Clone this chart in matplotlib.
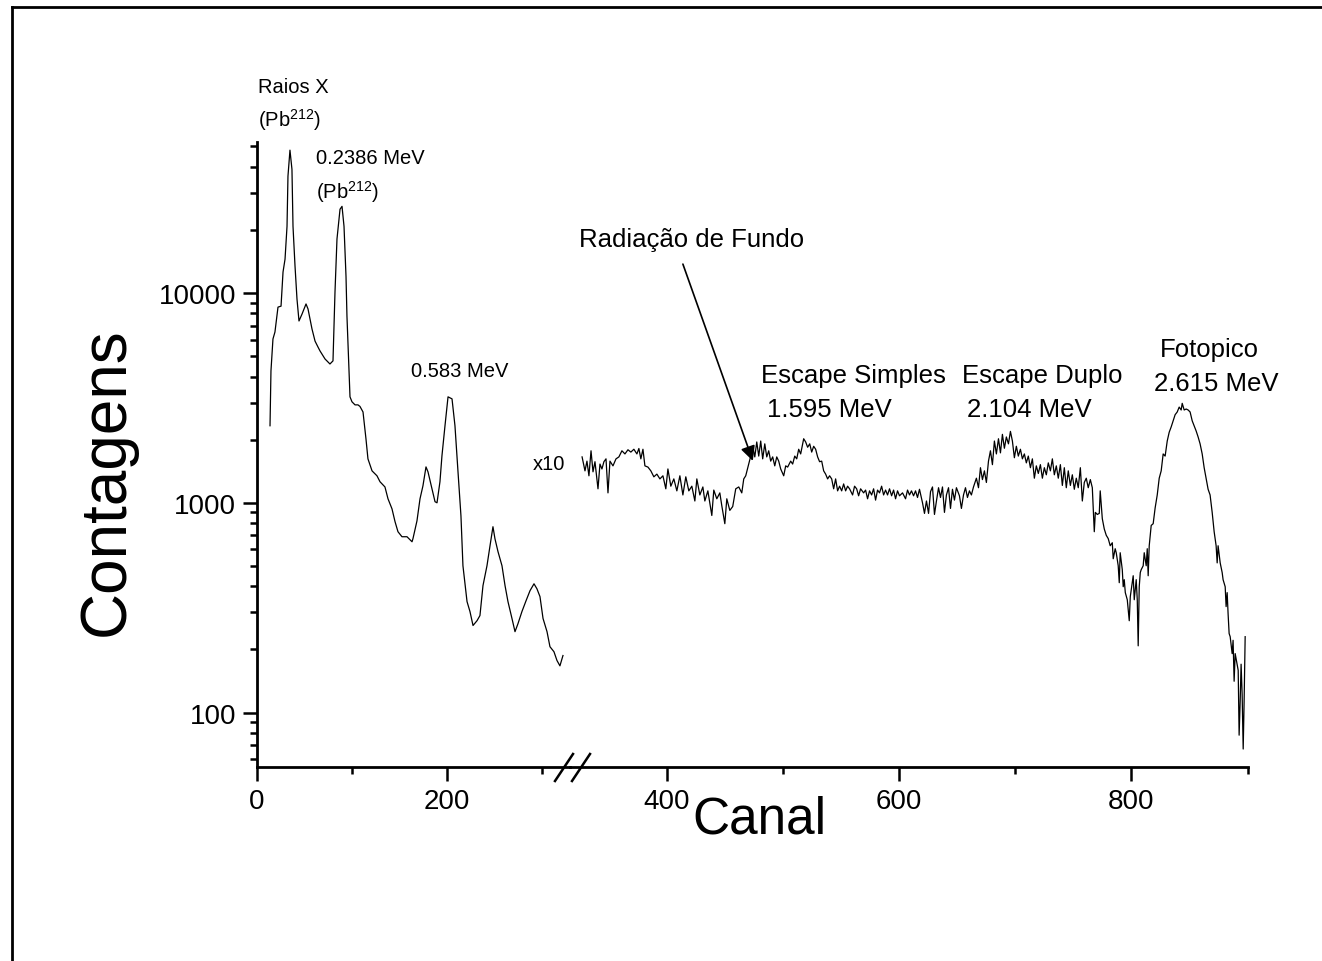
import matplotlib
matplotlib.use('Agg')
import matplotlib.pyplot as plt
from matplotlib.lines import Line2D
from matplotlib.ticker import MultipleLocator, LogLocator, NullFormatter, FixedLocator

plt.rcParams['font.family'] = ['Liberation Sans', 'DejaVu Sans']
plt.rcParams['mathtext.fontset'] = 'custom'
plt.rcParams['mathtext.rm'] = 'Liberation Sans'
plt.rcParams['mathtext.default'] = 'regular'

# --- left part of the spectrum (channel, counts) ---
left_ch = [13.7, 14.7, 16.8, 18.9, 22.1, 25.3, 27.4, 29.5, 31.6, 32.6, 34.7, 36.8, 37.9, 40.0,
           42.1, 44.2, 47.4, 51.6, 53.7, 57.9, 61.1, 64.2, 66.3, 71.6, 76.8, 80.0, 82.1, 84.2,
           87.4, 89.5, 91.6, 93.7, 94.7, 97.9, 100.0, 103.2, 106.3, 108.4, 111.6, 114.7, 116.8,
           121.1, 126.3, 129.5, 134.7, 137.9, 142.1, 145.3, 148.4, 152.6, 157.9, 163.2, 164.2,
           168.4, 171.6, 174.7, 177.9, 180.0, 184.2, 187.4, 189.5, 192.6, 194.7, 197.9, 201.1,
           205.3, 208.4, 211.6, 214.7, 216.8, 221.1, 224.2, 227.4, 231.6, 234.7, 237.9, 242.1,
           245.3, 248.4, 250.5, 253.7, 257.9, 261.1, 264.2, 268.4, 271.6, 274.7, 278.9, 283.2,
           287.4, 291.6, 294.7, 297.9, 301.1, 305.3, 308.4, 312.6, 315.8, 318.9, 322.1]
left_counts = [2330, 4255, 6040, 6520, 8570, 8660, 12600, 14500, 20800, 36100, 48000, 38900,
               20800, 13500, 9360, 7360, 7940, 8870, 8400, 6740, 5900, 5530, 5300, 4850, 4590,
               4750, 10100, 18100, 25100, 25900, 20800, 12000, 7760, 3200, 3030, 2930, 2930,
               2880, 2710, 2020, 1620, 1420, 1345, 1260, 1190, 1045, 936, 813, 728, 689, 689,
               652, 675, 820, 1045, 1205, 1483, 1405, 1166, 1012, 1000, 1260, 1675, 2330, 3200,
               3130, 2330, 1405, 867, 501, 338, 303, 260, 274, 290, 403, 501, 624, 769, 674,
               585, 501, 403, 338, 281, 243, 265, 303, 341, 381, 411, 389, 357, 281, 243, 206,
               195, 177, 167, 187]

# --- right part of the spectrum, shown multiplied by 10 ---
right_ch = [327.0, 329.5, 331.2, 332.9, 334.7, 336.4, 338.1, 340.7, 342.4, 344.1, 345.8, 347.6,
            349.3, 351.0, 353.6, 356.2, 358.7, 361.3, 363.9, 366.5, 369.0, 371.6, 374.2, 375.9,
            377.6, 379.4, 381.1, 383.7, 386.2, 388.8, 391.4, 394.0, 396.6, 399.1, 400.9, 403.4,
            406.0, 408.6, 411.2, 413.8, 416.3, 418.9, 421.5, 424.1, 425.8, 428.4, 431.0, 432.7,
            435.3, 438.7, 440.4, 443.0, 445.6, 447.3, 449.9, 451.6, 454.2, 456.7, 459.3, 461.9,
            464.5, 466.2, 467.9, 470.5, 472.2, 473.9, 475.7, 477.4, 479.1, 480.8, 482.5, 484.3,
            486.0, 487.7, 489.4, 491.1, 492.9, 494.6, 496.3, 498.0, 500.6, 502.3, 504.0, 506.6,
            508.3, 510.1, 511.8, 513.5, 515.2, 517.8, 519.5, 521.2, 523.0, 524.7, 526.4, 528.1,
            529.8, 531.5, 533.3, 535.0, 536.7, 538.4, 540.1, 541.9, 543.6, 545.3, 547.0, 548.7,
            550.5, 552.2, 553.9, 555.6, 557.3, 559.9, 561.6, 563.4, 565.1, 566.8, 569.4, 571.1,
            572.8, 574.5, 576.3, 578.0, 579.7, 581.4, 583.1, 584.9, 586.6, 588.3, 590.0, 591.7,
            593.5, 595.2, 596.9, 598.6, 600.3, 602.9, 605.5, 607.2, 608.9, 610.6, 612.4, 614.1,
            615.8, 617.5, 620.1, 621.8, 623.5, 625.3, 627.0, 628.7, 630.4, 632.1, 633.9, 635.6,
            637.3, 639.0, 640.7, 642.5, 644.2, 645.9, 647.6, 649.3, 651.9, 653.6, 655.4, 657.1,
            658.8, 660.5, 662.2, 664.0, 666.5, 668.3, 670.0, 671.7, 673.4, 675.1, 676.9, 678.6,
            680.3, 682.0, 683.7, 685.5, 687.2, 688.9, 690.6, 692.3, 694.1, 695.8, 697.5, 699.2,
            700.9, 702.6, 704.4, 706.1, 707.8, 709.5, 711.2, 713.0, 714.7, 716.4, 718.1, 719.8,
            721.6, 723.3, 725.0, 726.7, 728.4, 730.2, 731.9, 733.6, 735.3, 737.0, 738.8, 740.5,
            742.2, 743.9, 745.6, 747.4, 749.1, 750.8, 752.5, 754.2, 756.0, 757.7, 759.4, 761.1,
            762.8, 764.6, 766.3, 768.0, 768.9, 770.6, 772.3, 773.1, 774.9, 776.6, 778.3, 780.0,
            781.7, 783.5, 784.3, 786.0, 786.9, 788.6, 789.5, 790.3, 792.1, 792.9, 793.8, 794.7,
            796.4, 798.1, 799.0, 799.8, 801.5, 802.4, 804.1, 805.0, 805.8, 806.7, 807.6, 808.4,
            810.1, 811.0, 812.7, 813.6, 814.4, 815.3, 817.0, 818.7, 820.4, 822.2, 823.9, 825.6,
            827.3, 829.0, 830.8, 832.5, 834.2, 835.9, 837.6, 839.4, 841.1, 842.8, 843.7, 845.4,
            847.1, 848.8, 850.5, 852.3, 854.0, 855.7, 857.4, 859.1, 860.9, 862.6, 864.3, 866.0,
            867.7, 869.5, 871.2, 872.9, 873.8, 874.6, 876.4, 878.1, 878.9, 880.7, 881.5, 882.4,
            883.2, 884.1, 885.0, 886.7, 887.5, 888.4, 889.3, 891.0, 891.9, 892.7, 893.6, 894.4,
            895.3, 896.2, 897.0, 897.9]
right_counts_x10 = [1655, 1420, 1580, 1345, 1770, 1405, 1570, 1166, 1530, 1450, 1570, 1620,
                    1115, 1580, 1500, 1620, 1655, 1770, 1710, 1790, 1745, 1800, 1710, 1815,
                    1620, 1800, 1500, 1480, 1420, 1330, 1370, 1300, 1345, 1166, 1450, 1200,
                    1300, 1140, 1345, 1090, 1330, 1140, 1200, 1020, 1300, 1090, 1190, 1020,
                    1140, 870, 1150, 1045, 1115, 968, 795, 1045, 920, 960, 1166, 1190,
                    1115, 1300, 1345, 1530, 1670, 1860, 1655, 1950, 1670, 1970, 1620, 1910,
                    1655, 1770, 1580, 1655, 1500, 1655, 1580, 1450, 1345, 1500, 1480, 1580,
                    1530, 1670, 1620, 1800, 1710, 2020, 1950, 1840, 1910, 1745, 1860, 1800,
                    1655, 1570, 1580, 1420, 1370, 1300, 1345, 1300, 1166, 1300, 1140, 1200,
                    1140, 1230, 1140, 1200, 1166, 1090, 1200, 1166, 1080, 1166, 1115, 1150,
                    1045, 1140, 1090, 1166, 1030, 1150, 1115, 1200, 1090, 1150, 1090, 1166,
                    1080, 1150, 1045, 1140, 1080, 1115, 1045, 1150, 1090, 1140, 1080, 1140,
                    1060, 1160, 1000, 890, 1020, 890, 1130, 1190, 880, 1020, 1180, 1060,
                    1190, 900, 1090, 1180, 940, 1160, 1030, 1180, 1080, 940, 1090, 1180,
                    1060, 1140, 1090, 1190, 1310, 1180, 1470, 1290, 1420, 1250, 1580, 1770,
                    1520, 1970, 1710, 2020, 1730, 2120, 1820, 2060, 1910, 2190, 1970, 1640,
                    1860, 1670, 1800, 1620, 1710, 1550, 1670, 1470, 1620, 1310, 1500, 1380,
                    1520, 1310, 1470, 1360, 1550, 1420, 1620, 1360, 1500, 1310, 1520, 1210,
                    1470, 1180, 1420, 1210, 1360, 1160, 1310, 1180, 1470, 1020, 1250, 1310,
                    1180, 1290, 1180, 728, 900, 880, 890, 1140, 840, 750, 700, 675,
                    624, 645, 541, 604, 578, 501, 416, 578, 480, 398, 430, 373,
                    345, 274, 357, 385, 449, 345, 430, 345, 208, 398, 465, 480,
                    501, 578, 501, 604, 449, 624, 780, 795, 946, 1090, 1310, 1420,
                    1710, 1670, 1970, 2170, 2300, 2460, 2630, 2710, 2860, 2770, 2980, 2770,
                    2800, 2770, 2710, 2460, 2330, 2200, 2060, 1910, 1710, 1470, 1310, 1160,
                    1090, 900, 728, 624, 517, 624, 517, 465, 430, 398, 320, 373,
                    296, 238, 230, 191, 221, 141, 191, 170, 159, 78, 113, 170,
                    122, 67, 113, 230]

W, H = 1322, 962
fig = plt.figure(figsize=(W / 100, H / 100), dpi=100)


def fx(px):
    return px / W


def fy(py):
    return 1 - py / H


ax_bottom, ax_top = fy(768), fy(143)
x_break = 570
ax1 = fig.add_axes([fx(257), ax_bottom, fx(x_break) - fx(257), ax_top - ax_bottom])
ax2 = fig.add_axes([fx(x_break), ax_bottom, fx(1247.6) - fx(x_break), ax_top - ax_bottom],
                   sharey=ax1)

ax1.plot(left_ch, left_counts, color='black', lw=0.9)
ax2.plot(right_ch, right_counts_x10, color='black', lw=0.9)

ax1.set_yscale('log')
ax1.set_ylim(55, 52500)
ax1.set_xlim(0, 329.5)
ax2.set_xlim(316.6, 900)

for ax in (ax1, ax2):
    ax.patch.set_alpha(0)
    for s in ('top', 'right'):
        ax.spines[s].set_visible(False)
    ax.spines['bottom'].set_linewidth(2.0)
    ax.xaxis.set_major_locator(MultipleLocator(200))
    ax.xaxis.set_minor_locator(MultipleLocator(100))
    ax.tick_params(which='major', direction='out', length=10, width=1.8, labelsize=20, pad=5)
    ax.tick_params(which='minor', direction='out', length=5, width=1.8)

ax1.spines['left'].set_linewidth(2.0)
ax1.yaxis.set_major_locator(FixedLocator([100, 1000, 10000]))
ax1.yaxis.set_major_formatter(matplotlib.ticker.FuncFormatter(lambda v, p: f'{int(v)}'))
ax1.yaxis.set_minor_locator(LogLocator(base=10, subs=range(2, 10)))
ax1.yaxis.set_minor_formatter(NullFormatter())
ax2.spines['left'].set_visible(False)
ax2.tick_params(axis='y', which='both', left=False, labelleft=False)

# axis break marks
for x0, x1 in ((555, 573), (572, 590)):
    fig.add_artist(Line2D([fx(x0), fx(x1)], [fy(782), fy(755)], color='black', lw=1.8))

# outer frame (cut by the image edge)
fig.add_artist(Line2D([fx(12), fx(12)], [0, fy(8)], color='black', lw=2.0))
fig.add_artist(Line2D([fx(12), 1.0], [fy(8), fy(8)], color='black', lw=2.0))

# axis titles
fig.text(fx(759), fy(820), 'Canal', fontsize=37, ha='center', va='center')
fig.text(fx(107), fy(482), 'Contagens', fontsize=46, ha='center', va='center', rotation=90)

# peak annotations
small = 14.5
big = 18.5
ax1.text(1, 96800, 'Raios X', fontsize=small, ha='left', va='center')
ax1.text(1, 67400, '(Pb$^{212}$)', fontsize=small, ha='left', va='center')
ax1.text(62, 44500, '0.2386 MeV', fontsize=small, ha='left', va='center')
ax1.text(62, 30600, '(Pb$^{212}$)', fontsize=small, ha='left', va='center')
ax1.text(162, 4255, '0.583 MeV', fontsize=small, ha='left', va='center')
ax1.text(290.5, 1535, 'x10', fontsize=small, ha='left', va='center')

ax2.text(421.5, 18070, 'Radiação de Fundo', fontsize=big, ha='center', va='center')
ax2.annotate('', xy=(474, 1585), xytext=(413.8, 13740),
             arrowprops=dict(arrowstyle='-|>', color='black', lw=1.2,
                             mutation_scale=22, shrinkA=0, shrinkB=0))
ax2.text(560.8, 4075, 'Escape Simples', fontsize=big, ha='center', va='center')
ax2.text(540, 2805, '1.595 MeV', fontsize=big, ha='center', va='center')
ax2.text(723, 4075, 'Escape Duplo', fontsize=big, ha='center', va='center')
ax2.text(712, 2805, '2.104 MeV', fontsize=big, ha='center', va='center')
ax2.text(867, 5410, 'Fotopico', fontsize=big, ha='center', va='center')
ax2.text(873, 3726, '2.615 MeV', fontsize=big, ha='center', va='center')

fig.savefig('out.png', dpi=100)
